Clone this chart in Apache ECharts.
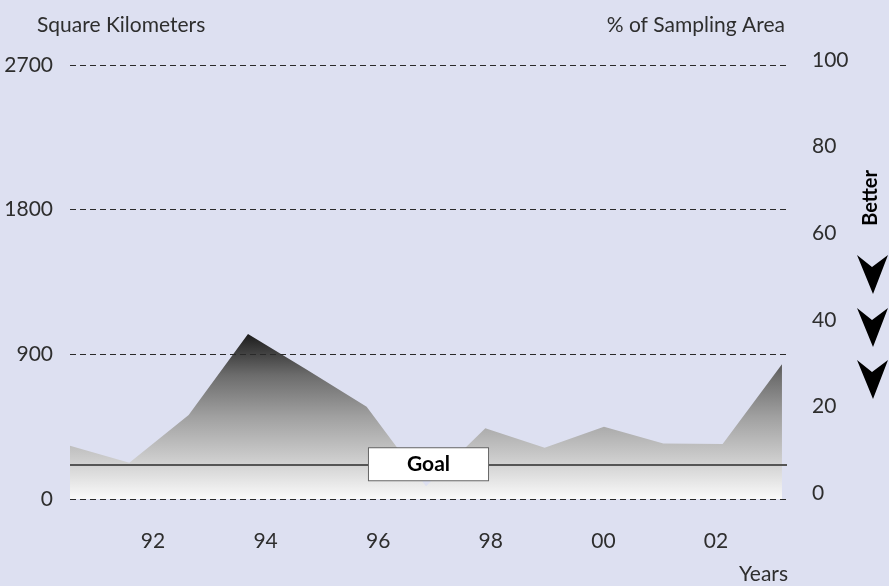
<!DOCTYPE html>
<html>
<head>
<meta charset="utf-8">
<script src="https://cdn.jsdelivr.net/npm/echarts@6/dist/echarts.min.js"></script>
<style>
html,body{margin:0;padding:0;background:#dde0f1;}
#chart{width:889px;height:586px;}
</style>
</head>
<body>
<div id="chart"></div>
<script>
// ---- data ----
const sampleYears = [1991, 1992, 1993, 1994, 1995, 1996, 1997, 1998, 1999, 2000, 2001, 2002, 2003];
const areaKm2     = [332, 226, 523, 1027, 803, 574, 80, 440, 319, 450, 346, 342, 838];
const goalKm2 = [216];
const leftTicks = [0, 900, 1800, 2700];
const rightTicks = [0, 20, 40, 60, 80, 100];
const yearTickValues = [1992, 1994, 1996, 1998, 2000, 2002];
const yearTickLabels = ['92', '94', '96', '98', '00', '02'];

const FONT = 'Lato, "Open Sans", sans-serif';
const TXT = '#2e2e2e';
const FS = 21;

const chart = echarts.init(document.getElementById('chart'), null, {renderer: 'canvas'});

const option = {
  backgroundColor: '#dde0f1',
  animation: false,
  textStyle: {fontFamily: FONT},
  title: [
    {text: 'Square Kilometers', left: 32, top: 10,
     textStyle: {fontFamily: FONT, fontWeight: 'normal', fontSize: FS, color: TXT}},
    {text: '% of Sampling Area', right: 99, top: 10,
     textStyle: {fontFamily: FONT, fontWeight: 'normal', fontSize: FS, color: TXT}},
    {text: 'Years', right: 96, top: 559,
     textStyle: {fontFamily: FONT, fontWeight: 'normal', fontSize: FS, color: TXT}}
  ],
  grid: [
    {left: 70, right: 102, top: 65, bottom: 87},
    {left: 70, right: 102, top: 60, bottom: 93}
  ],
  xAxis: [
    { // data axis (hidden)
      type: 'value', gridIndex: 0, position: 'top',
      min: sampleYears[0], max: sampleYears[0] + 12.085,
      show: false
    },
    { // year label axis
      type: 'value', gridIndex: 0, position: 'bottom',
      min: 1990.526, max: 2003.261,
      minInterval: 2, maxInterval: 2,
      axisLine: {show: false}, axisTick: {show: false}, splitLine: {show: false},
      axisLabel: {
        margin: 32, fontSize: FS, color: TXT, fontFamily: FONT,
        showMinLabel: false, showMaxLabel: false,
        formatter: function (v) {
          const i = yearTickValues.findIndex(y => Math.abs(y - v) < 1e-6);
          return i >= 0 ? yearTickLabels[i] : '';
        }
      }
    },
    {type: 'value', gridIndex: 1, min: 0, max: 1, show: false}
  ],
  yAxis: [
    {
      type: 'value', gridIndex: 0, position: 'left',
      min: leftTicks[0], max: leftTicks[leftTicks.length - 1], interval: 900,
      z: 5,
      axisLine: {show: false}, axisTick: {show: false},
      axisLabel: {margin: 17, fontSize: FS, color: TXT, fontFamily: FONT,
                  formatter: function (v) { return String(v); }},
      splitLine: {show: true, lineStyle: {color: '#2a2a2a', width: 1, type: [6, 4]}}
    },
    {
      type: 'value', gridIndex: 1, position: 'right',
      min: rightTicks[0], max: rightTicks[rightTicks.length - 1], interval: 20,
      axisLine: {show: false}, axisTick: {show: false}, splitLine: {show: false},
      axisLabel: {margin: 25, fontSize: FS, color: TXT, fontFamily: FONT,
                  formatter: function (v) { return String(v); }}
    }
  ],
  series: [
    {
      type: 'line',
      xAxisIndex: 0, yAxisIndex: 0,
      data: sampleYears.map((y, i) => [y, areaKm2[i]]),
      showSymbol: false,
      symbol: 'none',
      lineStyle: {width: 0},
      areaStyle: {
        opacity: 1,
        color: new echarts.graphic.LinearGradient(0, 0, 0, 1, [
          {offset: 0, color: '#1c1c1c'},
          {offset: 0.25, color: '#6c6c6c'},
          {offset: 0.5, color: '#a0a0a0'},
          {offset: 0.75, color: '#cbcbcb'},
          {offset: 1, color: '#fafafa'}
        ])
      },
      markLine: {
        silent: true,
        symbol: 'none',
        animation: false,
        lineStyle: {color: '#555555', width: 2, type: 'solid'},
        data: [{yAxis: goalKm2[0]}],
        label: {
          show: true,
          position: 'insideMiddle',
          formatter: 'Goal',
          fontFamily: FONT,
          fontWeight: 'bold',
          fontSize: 21,
          color: '#000',
          backgroundColor: '#ffffff',
          borderColor: '#666666',
          borderWidth: 1,
          padding: [6, 38, 5, 38]
        }
      }
    }
  ],
  graphic: [
    {type: 'text', x: 871, y: 198, rotation: Math.PI / 2,
     style: {text: 'Better', align: 'center', verticalAlign: 'middle',
             font: 'bold 20px ' + FONT, fill: '#000', letterSpacing: 2}},
    {type: 'polygon', x: 857, y: 255,
     shape: {points: [[0, 0], [15, 12], [31, 0], [16, 39]]}, style: {fill: '#000'}},
    {type: 'polygon', x: 857, y: 308,
     shape: {points: [[0, 0], [15, 12], [31, 0], [16, 39]]}, style: {fill: '#000'}},
    {type: 'polygon', x: 857, y: 360,
     shape: {points: [[0, 0], [15, 12], [31, 0], [16, 39]]}, style: {fill: '#000'}}
  ]
};
chart.setOption(option);
</script>
</body>
</html>
